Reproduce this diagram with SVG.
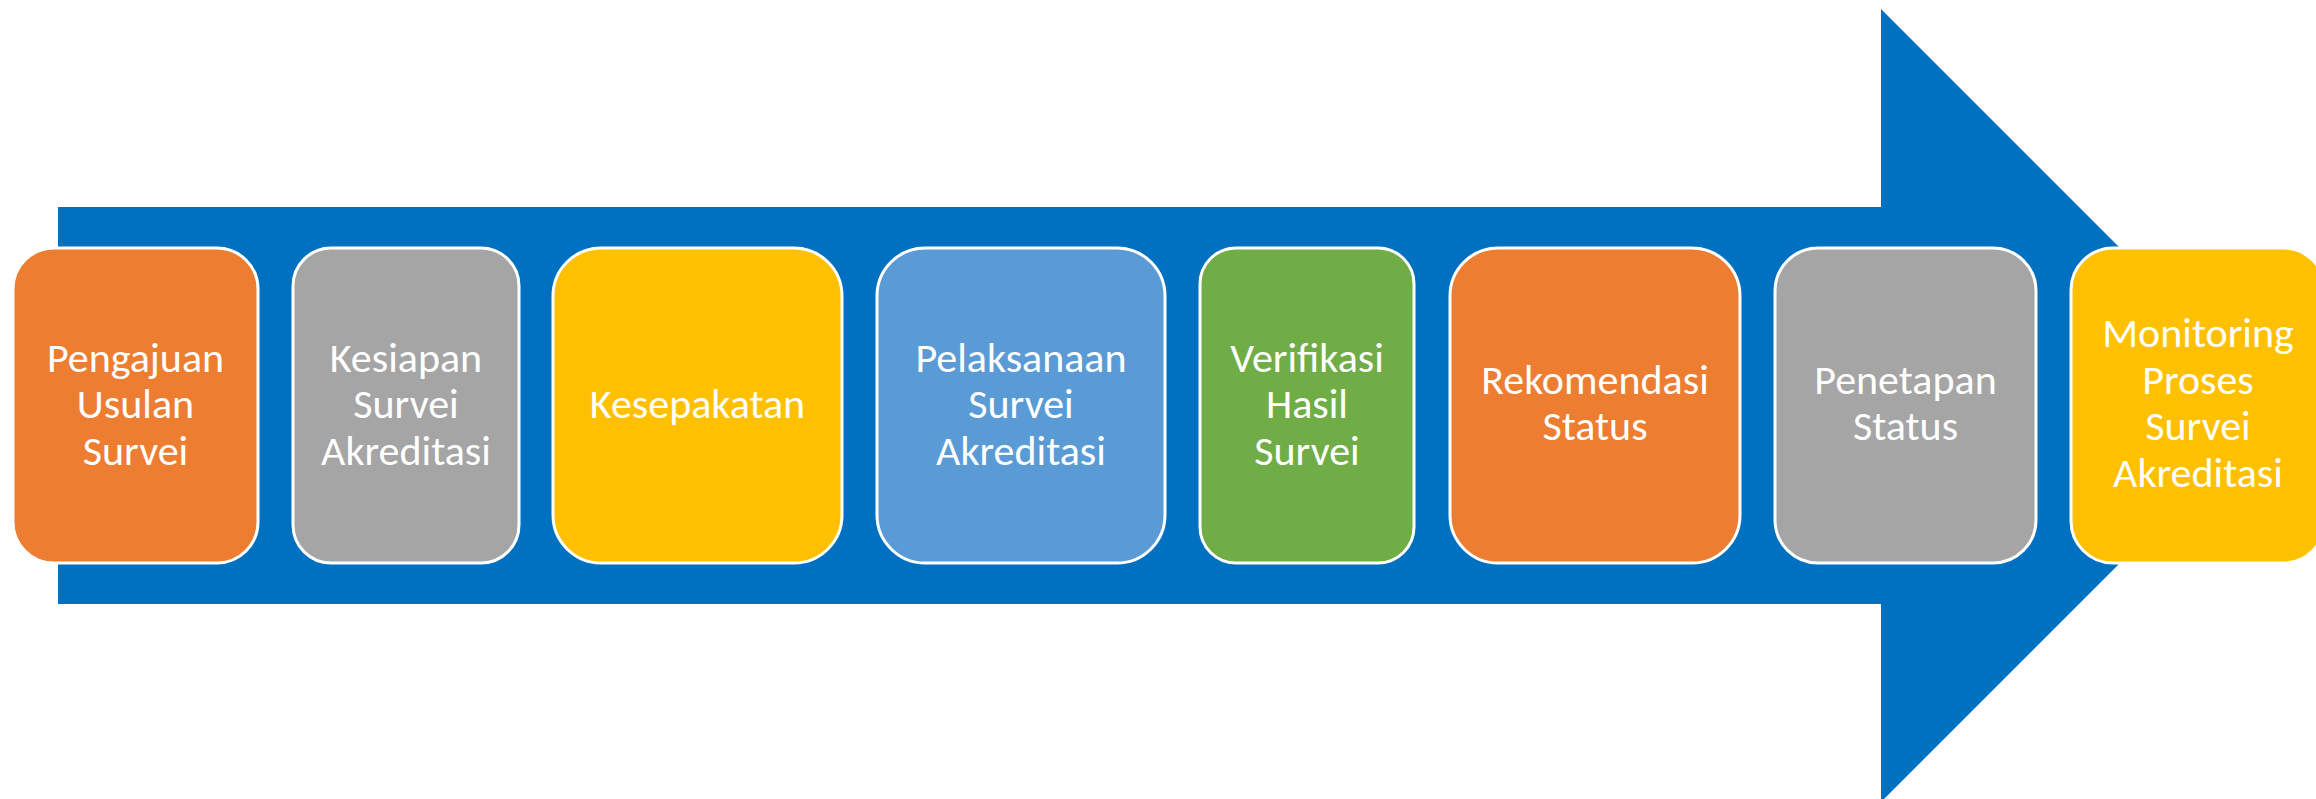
<svg xmlns="http://www.w3.org/2000/svg" width="2316" height="799" viewBox="0 0 2316 799">
<style>
.box{stroke:#ffffff;stroke-width:3}
.t{font-family:Carlito,Calibri,Lato,"Liberation Sans",sans-serif;font-size:42px;fill:#ffffff;text-anchor:middle}
.orange{fill:#ED7D31}.grey{fill:#A5A5A5}.yellow{fill:#FFC000}.lblue{fill:#5B9BD5}.green{fill:#70AD47}
</style>
<rect width="2316" height="799" fill="#ffffff"/>
<g id="connectors">
<path d="M58,207 H1881 V9 L2277.5,405.5 L1881,802 V604 H58 Z" fill="#0070C0"/>
</g>
<g id="n1"><rect class="box orange" x="13" y="248" width="245" height="315" rx="41"/>
<text class="t" x="135.5" y="372">Pengajuan</text><text class="t" x="135.5" y="418">Usulan</text><text class="t" x="135.5" y="465">Survei</text></g>
<g id="n2"><rect class="box grey" x="293" y="248" width="226" height="315" rx="38"/>
<text class="t" x="406" y="372">Kesiapan</text><text class="t" x="406" y="418">Survei</text><text class="t" x="406" y="465">Akreditasi</text></g>
<g id="n3"><rect class="box yellow" x="553" y="248" width="289" height="315" rx="48"/>
<text class="t" x="697.5" y="418">Kesepakatan</text></g>
<g id="n4"><rect class="box lblue" x="877" y="248" width="288" height="315" rx="48"/>
<text class="t" x="1021" y="372">Pelaksanaan</text><text class="t" x="1021" y="418">Survei</text><text class="t" x="1021" y="465">Akreditasi</text></g>
<g id="n5"><rect class="box green" x="1200" y="248" width="214" height="315" rx="36"/>
<text class="t" x="1307" y="372">Verifikasi</text><text class="t" x="1307" y="418">Hasil</text><text class="t" x="1307" y="465">Survei</text></g>
<g id="n6"><rect class="box orange" x="1450" y="248" width="290" height="315" rx="48"/>
<text class="t" x="1595" y="394">Rekomendasi</text><text class="t" x="1595" y="440">Status</text></g>
<g id="n7"><rect class="box grey" x="1775" y="248" width="261" height="315" rx="43"/>
<text class="t" x="1905.5" y="394">Penetapan</text><text class="t" x="1905.5" y="440">Status</text></g>
<g id="n8"><rect class="box yellow" x="2071" y="248" width="254" height="315" rx="42"/>
<text class="t" x="2198" y="347">Monitoring</text><text class="t" x="2198" y="394">Proses</text><text class="t" x="2198" y="440">Survei</text><text class="t" x="2198" y="487">Akreditasi</text></g>
</svg>
